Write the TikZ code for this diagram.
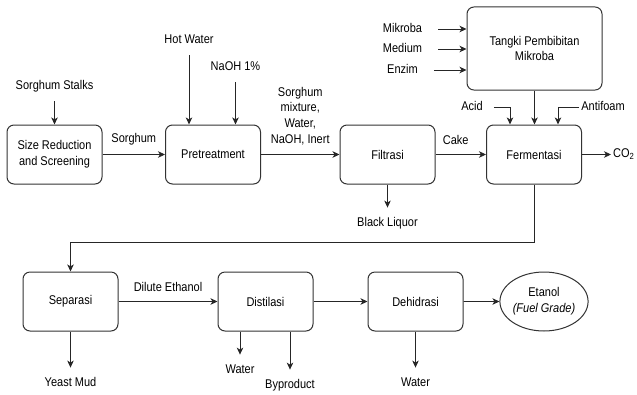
\documentclass[tikz,border=0pt]{standalone}
\usepackage{fontspec}
\setmainfont{Liberation Sans}
\usetikzlibrary{arrows.meta,positioning,shapes.geometric}
\begin{document}
\begin{tikzpicture}
	[x=1pt,y=-1pt,
	box/.style={draw=black!80,line width=1pt,rounded corners=7pt,
		minimum width=95pt,minimum height=51.3pt,align=center,
		font=\fontsize{11}{13.6}\selectfont,yscale=1.15,transform shape},
	lbl/.style={font=\fontsize{11}{13.6}\selectfont,align=center,
		inner xsep=2pt,inner ysep=8pt,yscale=1.15,transform shape},
	tag/.style={lbl,text height=8pt,text depth=2.4pt},
	arr/.style={draw=black!85,line width=0.8pt,
		-{Stealth[length=7pt,width=6.5pt,inset=2pt]}}]
	\useasboundingbox (0,0) rectangle (637,394);
	\node[box] (size) at (54.5,154.5) {Size Reduction\\and Screening};
	\node[box] (pre) at (213,154.5) {Pretreatment};
	\node[box] (filt) at (387.5,154.5) {Filtrasi};
	\node[box] (ferm) at (534,154.5) {Fermentasi};
	\node[box,minimum width=135pt,minimum height=72.2pt] (tangki) at (534.5,48.5)
		{Tangki Pembibitan\\Mikroba};
	\node[box] (sep) at (70.5,301.5) {Separasi};
	\node[box] (dist) at (265.5,301.5) {Distilasi};
	\node[box] (dehid) at (415.5,301.5) {Dehidrasi};
	\node[box,ellipse,inner sep=0pt,minimum width=88pt] (etanol) at (544,301.5)
		{Etanol\\\textit{(Fuel Grade)}};
	\node[tag,above=23pt of size] (stalks) {Sorghum Stalks};
	\node[tag] (hot) at (189,40) {Hot Water};
	\node[tag] (naoh) at (235.5,67) {NaOH 1\%};
	\node[tag] (mikroba) at (402.5,29) {Mikroba};
	\node[tag] (medium) at (402.5,49) {Medium};
	\node[tag] (enzim) at (402.5,70) {Enzim};
	\node[tag] (acid) at (472,107) {Acid};
	\node[tag] (antifoam) at (603,107) {Antifoam};
	\node[tag,right=29pt of ferm] (co2) {CO\textsubscript{2}};
	\node[tag,below=23pt of filt] (liquor) {Black Liquor};
	\node[tag,below=36pt of sep] (yeast) {Yeast Mud};
	\node[tag] (water) at (240,370) {Water};
	\node[tag] (byprod) at (290,385) {Byproduct};
	\node[tag,below=36pt of dehid] (waterb) {Water};
	\draw[arr] (stalks) -- (size);
	\draw[arr] (hot) -- (hot |- pre.north);
	\draw[arr] (naoh) -- (naoh |- pre.north);
	\draw[arr] (mikroba.east) ++(14,0) -- (mikroba -| tangki.west);
	\draw[arr] (medium.east) ++(14,0) -- (medium -| tangki.west);
	\draw[arr] (enzim.east) ++(14,0) -- (enzim -| tangki.west);
	\draw[arr] (acid.east) ++(9,0) -| ([xshift=-24pt]ferm.north);
	\draw[arr] (antifoam.west) -| ([xshift=24pt]ferm.north);
	\draw[arr] (tangki.south) -- (tangki.south |- ferm.north);
	\draw[arr] (size) -- node[lbl,above] (sorghum) {Sorghum} (pre);
	\draw[arr] (pre) -- node[lbl,above] (mixture) {Sorghum\\mixture,\\Water,\\NaOH, Inert} (filt);
	\draw[arr] (filt) -- node[lbl,above,pos=0.4] (cake) {Cake} (ferm);
	\draw[arr] (ferm) -- (co2);
	\draw[arr] (liquor |- filt.south) -- (liquor);
	\draw[arr] (ferm.south) -- ++(0,58) -| (sep.north);
	\draw[arr] (sep) -- node[lbl,above] (dilute) {Dilute Ethanol} (dist);
	\draw[arr] (dist) -- (dehid);
	\draw[arr] (dehid) -- (etanol);
	\draw[arr] (sep) -- (yeast);
	\draw[arr] (water |- dist.south) -- (water);
	\draw[arr] (byprod |- dist.south) -- (byprod);
	\draw[arr] (dehid) -- (waterb);
\end{tikzpicture}
\end{document}
